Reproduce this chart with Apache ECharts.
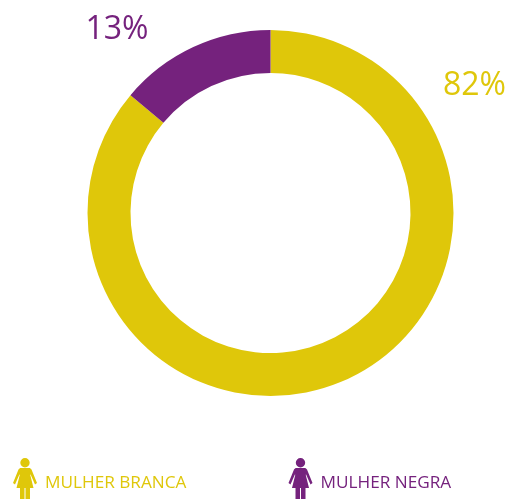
<!DOCTYPE html>
<html><head><meta charset="utf-8">
<style>html,body{margin:0;padding:0;background:#fff}#c{width:515px;height:499px}</style>
<script src="https://cdn.jsdelivr.net/npm/echarts@6/dist/echarts.min.js"></script>
</head><body><div id="c"></div>
<script>
const categories = ['MULHER BRANCA', 'MULHER NEGRA'];
const values = [82, 13.2];
const colors = ['#dfc70a', '#75227d'];
const woman = 'path://M12 0A4.7 4.7 0 1 1 11.99 0ZM8 10H16C17 10 18 10.6 18.5 11.5L24 25L22 26.5L17.6 16.5L17.2 16.8L20.5 30H17V50H12.5V30H11.5V50H7V30H3.5L6.8 16.8L6.4 16.5L2 26.5L0 25L5.5 11.5C6 10.6 7 10 8 10Z';
const chart = echarts.init(document.getElementById('c'), null, {renderer:'canvas'});
const font = '"Open Sans", sans-serif';
const legend = (name, left, color) => ({
  data:[name], left, top:458, orient:'horizontal', padding:0,
  itemWidth:24, itemHeight:50, icon:woman, selectedMode:false,
  textStyle:{color, fontFamily:font, fontSize:17.2, padding:[4,0,0,3]}
});
chart.setOption({
  animation:false,
  backgroundColor:'#fff',
  legend:[legend(categories[0],13,colors[0]), legend(categories[1],288.5,colors[1])],
  series:[{
    type:'pie',
    center:[270.5,213],
    radius:[140,183],
    startAngle:90,
    silent:true,
    data:categories.map((name,i)=>({name,value:values[i],itemStyle:{color:colors[i]},
      label:{color:colors[i]}})),
    label:{show:true,position:'outside',formatter:(p)=>Math.round(p.value)+'%',fontFamily:font,fontSize:32},
    labelLine:{show:false},
    labelLayout:(p)=> p.dataIndex===0 ? {x:474.5,y:86,align:'center',verticalAlign:'middle'} : {x:117,y:30,align:'center',verticalAlign:'middle'}
  }]
});
</script></body></html>
